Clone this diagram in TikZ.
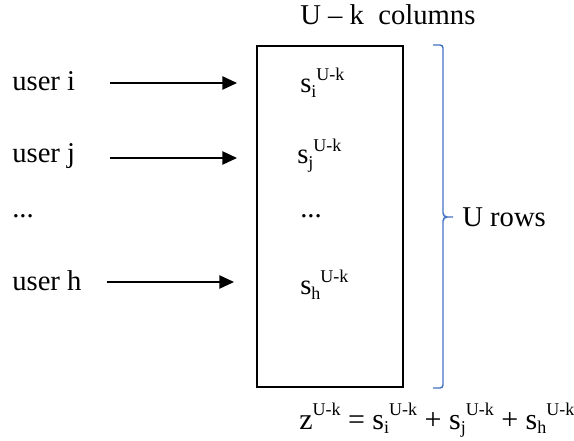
\documentclass[tikz,border=0pt]{standalone}
\usepackage{fontspec}
\setmainfont{Liberation Serif}
\usetikzlibrary{arrows.meta}
\newcommand{\mysup}[1]{\raisebox{0.45em}{\fontsize{13.5}{15}\selectfont #1}}
\newcommand{\mysub}[1]{\raisebox{-0.14em}{\fontsize{13.5}{15}\selectfont #1}}
\newcommand{\svar}[1]{s\mysub{#1}\mysup{U-k}}
\begin{document}
\begin{tikzpicture}[x=0.75pt,y=-0.75pt,
  txt/.style={anchor=base west,inner sep=0pt,font=\fontsize{21.5}{26}\selectfont},
  arr/.style={line width=1.1pt,-{Triangle[length=11pt,width=10pt]}},
  boxline/.style={line width=1.2pt},
  brace/.style={line width=1.1pt,draw={rgb,255:red,68;green,114;blue,196}}]
\useasboundingbox (0,0) rectangle (574,441);
% matrix box
\draw[boxline] (257,46) rectangle (403,387);
% title
\node[txt] (title) at (300,25) {U – k\ \ columns};
% users
\node[txt] (ui) at (12,91) {user i};
\node[txt] (uj) at (12,163) {user j};
\node[txt] (ud) at (12,218) {...};
\node[txt] (uh) at (12,291) {user h};
% arrow coordinates
\coordinate (si) at (110,83);  \coordinate (ei) at (237,83);
\coordinate (sj) at (110,158); \coordinate (ej) at (237,158);
\coordinate (sh) at (107,282); \coordinate (eh) at (234,282);
\draw[arr] (si) -- (ei);
\draw[arr] (sj) -- (ej);
\draw[arr] (sh) -- (eh);
% cells
\node[txt] (ci) at (300,93) {\svar{i}};
\node[txt] (cj) at (297,164) {\svar{j}};
\node[txt] (cd) at (300,218) {...};
\node[txt] (ch) at (300,295) {\svar{h}};
% brace
\draw[brace] (433,45) -- (440,45) to[out=0,in=90] (443,48) -- (443,213)
  to[out=-90,in=180] (447,217) -- (453,217);
\draw[brace] (433,388) -- (440,388) to[out=0,in=-90] (443,385) -- (443,221)
  to[out=90,in=180] (447,217);
\node[txt] (rows) at (462,227) {U rows};
% formula
\node[txt,font=\fontsize{22.5}{27}\selectfont] (formula) at (299,429) {z\mysup{U-k} = \svar{i} + \svar{j} + \svar{h}};
\end{tikzpicture}
\end{document}
